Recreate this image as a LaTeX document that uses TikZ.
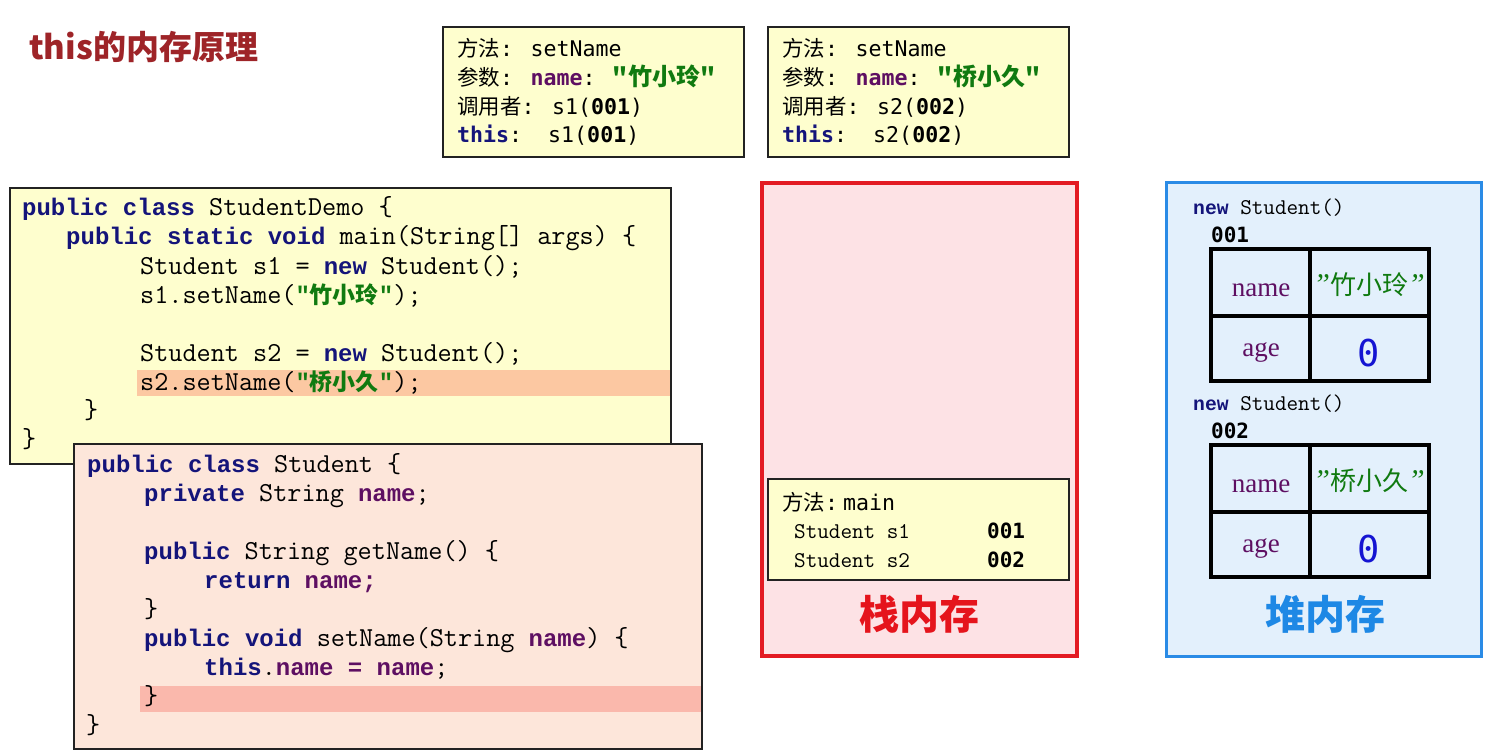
\documentclass[tikz,border=0pt]{standalone}
\usepackage{fontspec}
\setmainfont{Liberation Serif}
\newfontfamily\cmonof{Liberation Mono}
\newfontfamily\lmmono{Latin Modern Mono}
\newfontfamily\smonof{DejaVu Sans Mono}
\newfontfamily\cjkf{Noto Sans CJK SC}
\definecolor{kwc}{HTML}{14147A}
\definecolor{nmc}{HTML}{5E0F62}
\definecolor{strc}{HTML}{107A10}
\definecolor{titlec}{HTML}{9E2428}
\definecolor{ybg}{HTML}{FEFECE}
\definecolor{pbg}{HTML}{FDE6DA}
\definecolor{hlA}{HTML}{FCC8A2}
\definecolor{hlB}{HTML}{FAB8AC}
\definecolor{stackbg}{HTML}{FDE2E5}
\definecolor{stackbd}{HTML}{E31B23}
\definecolor{heapbg}{HTML}{E3F0FC}
\definecolor{heapbd}{HTML}{2A8BE6}
\definecolor{redlab}{HTML}{E5141C}
\definecolor{bluelab}{HTML}{1E88E5}
\definecolor{zeroc}{HTML}{1414D2}
\definecolor{boxbd}{HTML}{222222}
\newcommand\codefont{\lmmono\fontsize{27.43}{27.43}\selectfont}
\newcommand\infofont{\smonof\fontsize{21.6}{21.6}\selectfont}
\newcommand\smallcode{\lmmono\fontsize{22.5}{22.5}\selectfont}
\newcommand\kw[1]{{\cmonof\bfseries\fontsize{24}{24}\selectfont\color{kwc}#1}}
\newcommand\kws[1]{{\cmonof\bfseries\fontsize{19.7}{19.7}\selectfont\color{kwc}#1}}
\newcommand\kwi[1]{{\bfseries\color{kwc}#1}}
\newcommand\nm[1]{{\cmonof\bfseries\fontsize{24}{24}\selectfont\color{nmc}#1}}
\newcommand\nmi[1]{{\bfseries\color{nmc}#1}}
\newcommand\qs{{\cmonof\bfseries\fontsize{24}{24}\selectfont\color{strc}"}}
\newcommand\zs[1]{{\cjkf\bfseries\fontsize{23}{23}\selectfont\color{strc}#1}}
\newcommand\zi[1]{{\cjkf\bfseries\fontsize{24}{24}\selectfont\color{strc}#1}}
\newcommand\zh[1]{{\cjkf\fontsize{21.5}{21.5}\selectfont #1}}
\tikzset{
  codeline/.style={anchor=base west, inner sep=0pt, font=\codefont},
  infoline/.style={anchor=base west, inner sep=0pt, font=\infofont},
  smallline/.style={anchor=base west, inner sep=0pt, font=\smallcode},
  numline/.style={anchor=base west, inner sep=0pt, font=\smonof\bfseries\fontsize{21}{21}\selectfont},
  cellname/.style={inner sep=0pt, font=\fontsize{27}{27}\selectfont, text=nmc},
  cellval/.style={inner sep=0pt, font=\cjkf\fontsize{26}{26}\selectfont, text=strc},
  cellzero/.style={inner sep=0pt, font=\smonof\fontsize{37}{37}\selectfont, text=zeroc},
  infobox/.style={draw=boxbd, line width=1.5pt, fill=ybg},
  bigl/.style={inner sep=0pt, font=\cjkf\bfseries\fontsize{40}{40}\selectfont},
  tbl/.style={draw=black, line width=4pt},
}
\newcommand\cq{{\rmfamily\itshape\fontsize{30}{30}\selectfont ”}}
\begin{document}
\begin{tikzpicture}[x=1pt,y=-1pt]
\useasboundingbox (0,0) rectangle (1489,754);
\fill[white] (0,0) rectangle (1489,754);
% title
\node[anchor=west, inner sep=0pt, text=titlec, font=\cjkf\bfseries\fontsize{33}{33}\selectfont] (title) at (29,47) {this的内存原理};

% top info boxes
\draw[infobox] (443,27) rectangle (744,157);
\node[infoline] (ta1) at (457,57) {\zh{方法}: setName};
\node[infoline] (ta2) at (457,86) {\zh{参数}: \nmi{name}: \zi{"竹小玲"}};
\node[infoline] (ta3) at (457,115) {\zh{调用者}: s1(\textbf{001})};
\node[infoline] (ta4) at (457,143) {\kwi{this}:\ \ s1(\textbf{001})};

\draw[infobox] (768,27) rectangle (1069,157);
\node[infoline] (tb1) at (782,57) {\zh{方法}: setName};
\node[infoline] (tb2) at (782,86) {\zh{参数}: \nmi{name}: \zi{"桥小久"}};
\node[infoline] (tb3) at (782,115) {\zh{调用者}: s2(\textbf{002})};
\node[infoline] (tb4) at (782,143) {\kwi{this}:\ \ s2(\textbf{002})};

% code box 1
\draw[draw=boxbd, line width=1.5pt, fill=ybg] (10,188) rectangle (671,464);
\fill[hlA] (137,370) rectangle (670.25,396);
\node[codeline] (c1) at (22,216) {\kw{public class} StudentDemo \{};
\node[codeline] (c2) at (66,245) {\kw{public static void} main(String[] args) \{};
\node[codeline] (c3) at (140,274) {Student s1 = \kw{new} Student();};
\node[codeline] (c4) at (140,303) {s1.setName(\qs\zs{竹小玲}\qs);};
\node[codeline] (c5) at (140,361) {Student s2 = \kw{new} Student();};
\node[codeline] (c6) at (140,390) {s2.setName(\qs\zs{桥小久}\qs);};
\node[codeline] (c7) at (84,418) {\}};
\node[codeline] (c8) at (22,447) {\}};

% code box 2
\draw[draw=boxbd, line width=1.5pt, fill=pbg] (74,444) rectangle (702,749);
\fill[hlB] (140,686) rectangle (701.25,712);
\node[codeline] (d1) at (87,472) {\kw{public class} Student \{};
\node[codeline] (d2) at (144,501) {\kw{private} String \nm{name};};
\node[codeline] (d3) at (144,559) {\kw{public} String getName() \{};
\node[codeline] (d4) at (204,588) {\kw{return} \nm{name;}};
\node[codeline] (d5) at (144,617) {\}};
\node[codeline] (d6) at (144,646) {\kw{public void} setName(String \nm{name}) \{};
\node[codeline] (d7) at (204,675) {\kw{this}.\nm{name = name};};
\node[codeline] (d8) at (144,704) {\}};
\node[codeline] (d9) at (86,733) {\}};

% stack memory
\draw[draw=stackbd, line width=4pt, fill=stackbg] (762,183) rectangle (1077,656);
\draw[infobox] (768,479) rectangle (1069,580);
\node[infoline] (s1) at (782,510) {\zh{方法}:\hspace{5pt}main};
\node[smallline] (s2) at (794,538) {Student s1};
\node[numline] (s3) at (987,538) {001};
\node[smallline] (s4) at (794,567) {Student s2};
\node[numline] (s5) at (987,567) {002};
\node[bigl, text=redlab] (stacklab) at (919,614) {栈内存};

% heap memory
\draw[draw=heapbd, line width=3pt, fill=heapbg] (1166,183) rectangle (1481,656);
\node[smallline] (h1) at (1193,215) {\kws{new} Student()};
\node[numline] (h2) at (1211,243) {001};
\draw[tbl] (1211,249) rectangle (1429,381);
\draw[tbl] (1310,249) -- (1310,381);
\draw[tbl] (1211,316) -- (1429,316);
\node[cellname] (n1) at (1261,290) {name};
\node[cellval] (v1) at (1369,285) {\cq 竹小玲\cq};
\node[cellname] (a1) at (1261,352) {age};
\node[cellzero] (z1) at (1369,353) {0};

\node[smallline] (h3) at (1193,410) {\kws{new} Student()};
\node[numline] (h4) at (1211,438) {002};
\draw[tbl] (1211,445) rectangle (1429,577);
\draw[tbl] (1310,445) -- (1310,577);
\draw[tbl] (1211,512) -- (1429,512);
\node[cellname] (n2) at (1261,486) {name};
\node[cellval] (v2) at (1369,481) {\cq 桥小久\cq};
\node[cellname] (a2) at (1261,548) {age};
\node[cellzero] (z2) at (1369,549) {0};
\node[bigl, text=bluelab] (heaplab) at (1325,614) {堆内存};
\end{tikzpicture}
\end{document}
